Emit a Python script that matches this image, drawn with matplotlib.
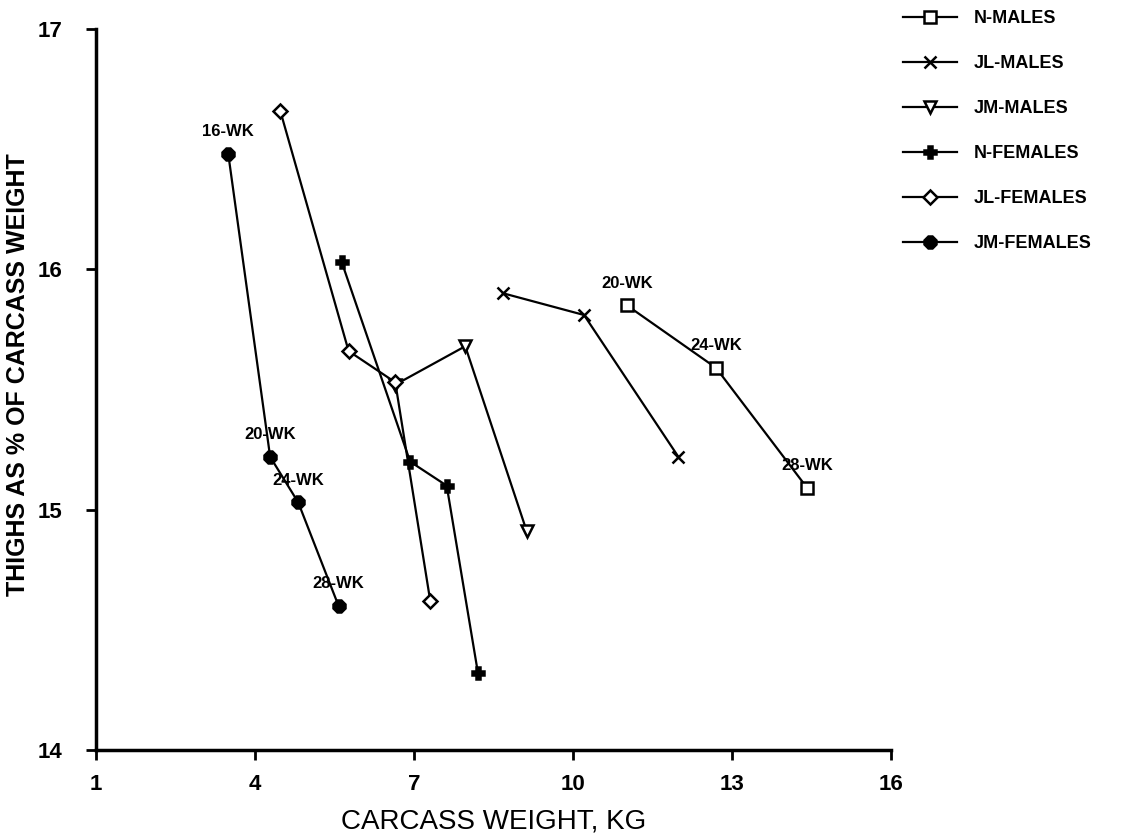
import matplotlib
matplotlib.use('Agg')
import matplotlib.pyplot as plt

# carcass weight (kg) and thighs as % of carcass weight, per strain/sex
n_males_x = [11.02, 12.70, 14.42]
n_males_y = [15.85, 15.59, 15.09]
jl_males_x = [8.69, 10.21, 11.99]
jl_males_y = [15.90, 15.81, 15.22]
jm_males_x = [6.65, 7.97, 9.13]
jm_males_y = [15.52, 15.68, 14.91]
n_females_x = [5.64, 6.93, 7.62, 8.21]
n_females_y = [16.03, 15.20, 15.10, 14.32]
jl_females_x = [4.48, 5.77, 6.65, 7.31]
jl_females_y = [16.66, 15.66, 15.53, 14.62]
jm_females_x = [3.50, 4.29, 4.82, 5.58]
jm_females_y = [16.48, 15.22, 15.03, 14.60]

female_weeks = ['16-WK', '20-WK', '24-WK', '28-WK']
male_weeks = ['20-WK', '24-WK', '28-WK']

x_ticks = [1, 4, 7, 10, 13, 16]
y_ticks = [14, 15, 16, 17]

plt.rcParams['font.family'] = ['Liberation Sans', 'DejaVu Sans']

fig = plt.figure(figsize=(11.3, 8.4), dpi=100)
ax = fig.add_axes([0.0847, 0.1071, 0.7038, 0.8584])

line_kw = dict(color='black', linewidth=1.6, markersize=9, markeredgewidth=1.8)
ax.plot(n_males_x, n_males_y, marker='s', mfc='white', mec='black', label='N-MALES', **line_kw)
ax.plot(jl_males_x, jl_males_y, marker='x', label='JL-MALES', **line_kw)
ax.plot(jm_males_x, jm_males_y, marker='v', mfc='white', mec='black', label='JM-MALES', **line_kw)
ax.plot(n_females_x, n_females_y, marker='P', mfc='black', mec='black', label='N-FEMALES', **line_kw)
ax.plot(jl_females_x, jl_females_y, marker='D', mfc='white', mec='black', label='JL-FEMALES',
        color='black', linewidth=1.6, markersize=7, markeredgewidth=1.8)
ax.plot(jm_females_x, jm_females_y, marker='8', mfc='black', mec='black', label='JM-FEMALES', **line_kw)

# week labels above the points
for x, y, wk in zip(jm_females_x, jm_females_y, female_weeks):
    ax.annotate(wk, (x, y), xytext=(0, 16), textcoords='offset points',
                ha='center', va='center', fontsize=12, fontweight='bold')
for x, y, wk in zip(n_males_x, n_males_y, male_weeks):
    ax.annotate(wk, (x, y), xytext=(0, 16), textcoords='offset points',
                ha='center', va='center', fontsize=12, fontweight='bold')

ax.set_xlim(1, 16)
ax.set_ylim(14, 17)
ax.set_xticks(x_ticks)
ax.set_yticks(y_ticks)
ax.set_xticklabels([str(t) for t in x_ticks], fontsize=16, fontweight='bold')
ax.set_yticklabels([str(t) for t in y_ticks], fontsize=16, fontweight='bold')
ax.tick_params(axis='y', direction='out', length=7, width=2, pad=17)
ax.tick_params(axis='x', direction='out', length=7, width=2, pad=10)

for side in ['top', 'right']:
    ax.spines[side].set_visible(False)
for side in ['left', 'bottom']:
    ax.spines[side].set_linewidth(2.5)

ax.set_xlabel('CARCASS WEIGHT, KG', fontsize=20, labelpad=10)
ax.set_ylabel('THIGHS AS % OF CARCASS WEIGHT', fontsize=18, fontweight='bold')
ax.yaxis.set_label_coords(-0.083, 0.52)

fig.legend(loc='upper left', bbox_to_anchor=(903 / 1130, 1 - 10 / 840), frameon=False,
           prop={'size': 13, 'weight': 'bold'}, handlelength=3.0, handletextpad=0.9,
           labelspacing=1.55, borderpad=0, borderaxespad=0)

fig.savefig('out.png', dpi=100)
